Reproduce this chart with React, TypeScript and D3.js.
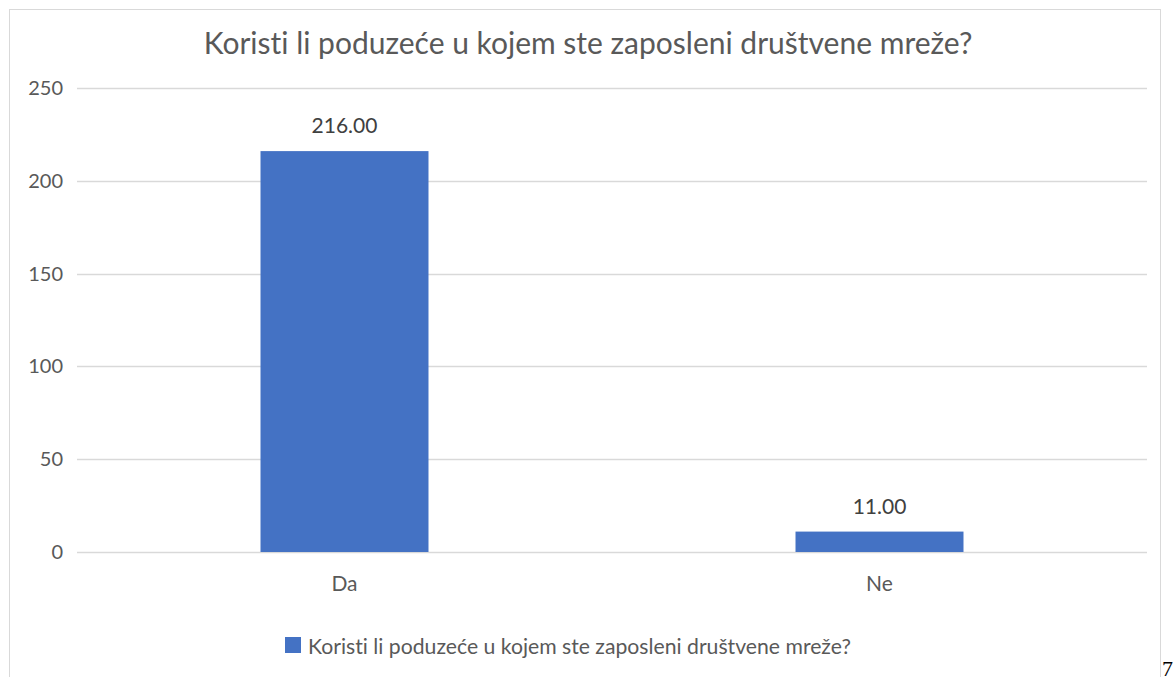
import React from 'react';
import * as d3 from 'd3';

const categories = ['Da', 'Ne'];
const values = [216, 11];
const yTicks = [0, 50, 100, 150, 200, 250];
const title = 'Koristi li poduzeće u kojem ste zaposleni društvene mreže?';
const seriesName = 'Koristi li poduzeće u kojem ste zaposleni društvene mreže?';

const App = () => {
    const ref = React.useRef<SVGSVGElement>(null);

    React.useEffect(() => {
        const width = 1174, height = 677;
        const left = 77, right = 1147, top = 88, bottom = 552;
        const textColor = '#595959';
        const barColor = '#4472C4';
        const font = 'Lato, "Open Sans", sans-serif';

        const svg = d3.select(ref.current);
        svg.selectAll('*').remove();
        svg.attr('width', width).attr('height', height)
            .style('font-variant-ligatures', 'none');

        // chart frame (runs past the bottom of the page)
        svg.append('rect')
            .attr('x', 9.5).attr('y', 9.5)
            .attr('width', 1151).attr('height', 700)
            .attr('fill', '#fff')
            .attr('stroke', '#d9d9d9');

        svg.append('text')
            .attr('x', 588)
            .attr('y', 54)
            .attr('text-anchor', 'middle')
            .attr('font-family', font)
            .attr('font-size', 30)
            .attr('fill', textColor)
            .text(title);

        const x = d3.scaleBand().domain(categories).range([left, right]).padding(0);
        const y = d3.scaleLinear().domain([0, 250]).range([bottom, top]);
        const barW = x.bandwidth() * 0.314;

        const grid = svg.append('g');
        grid.selectAll('line')
            .data(yTicks)
            .enter()
            .append('line')
            .attr('x1', left).attr('x2', right)
            .attr('y1', d => Math.round(y(d)) + 0.5)
            .attr('y2', d => Math.round(y(d)) + 0.5)
            .attr('stroke', '#d9d9d9')
            .attr('stroke-width', 1.3);

        grid.selectAll('text')
            .data(yTicks)
            .enter()
            .append('text')
            .attr('x', 63)
            .attr('y', d => y(d) + 7)
            .attr('text-anchor', 'end')
            .attr('font-family', font)
            .attr('font-size', 20)
            .attr('fill', textColor)
            .text(d => d);

        const bars = svg.append('g')
            .selectAll('g')
            .data(categories.map((c, i) => ({ c, v: values[i] })))
            .enter()
            .append('g');

        bars.append('rect')
            .attr('x', d => (x(d.c) as number) + x.bandwidth() / 2 - barW / 2)
            .attr('y', d => y(d.v))
            .attr('width', barW)
            .attr('height', d => y(0) - y(d.v))
            .attr('fill', barColor);

        bars.append('text')
            .attr('x', d => (x(d.c) as number) + x.bandwidth() / 2)
            .attr('y', d => y(d.v) - 18)
            .attr('text-anchor', 'middle')
            .attr('font-family', font)
            .attr('font-size', 21)
            .attr('fill', '#404040')
            .text(d => d.v.toFixed(2));

        bars.append('text')
            .attr('x', d => (x(d.c) as number) + x.bandwidth() / 2)
            .attr('y', 591)
            .attr('text-anchor', 'middle')
            .attr('font-family', font)
            .attr('font-size', 21)
            .attr('fill', textColor)
            .text(d => d.c);

        // legend
        const legend = svg.append('g');
        legend.append('rect')
            .attr('x', 285).attr('y', 637)
            .attr('width', 16).attr('height', 16)
            .attr('fill', barColor);
        legend.append('text')
            .attr('x', 308).attr('y', 654)
            .attr('font-family', font)
            .attr('font-size', 21.2)
            .attr('fill', textColor)
            .text(seriesName);

        // page number outside the frame
        svg.append('text')
            .attr('x', 1162).attr('y', 676)
            .attr('font-family', '"Liberation Serif", serif')
            .attr('font-size', 22)
            .attr('fill', '#000')
            .text('7');
    }, []);

    return <svg ref={ref} style={{ position: 'absolute', left: 0, top: 0 }} />;
};

export default App;
